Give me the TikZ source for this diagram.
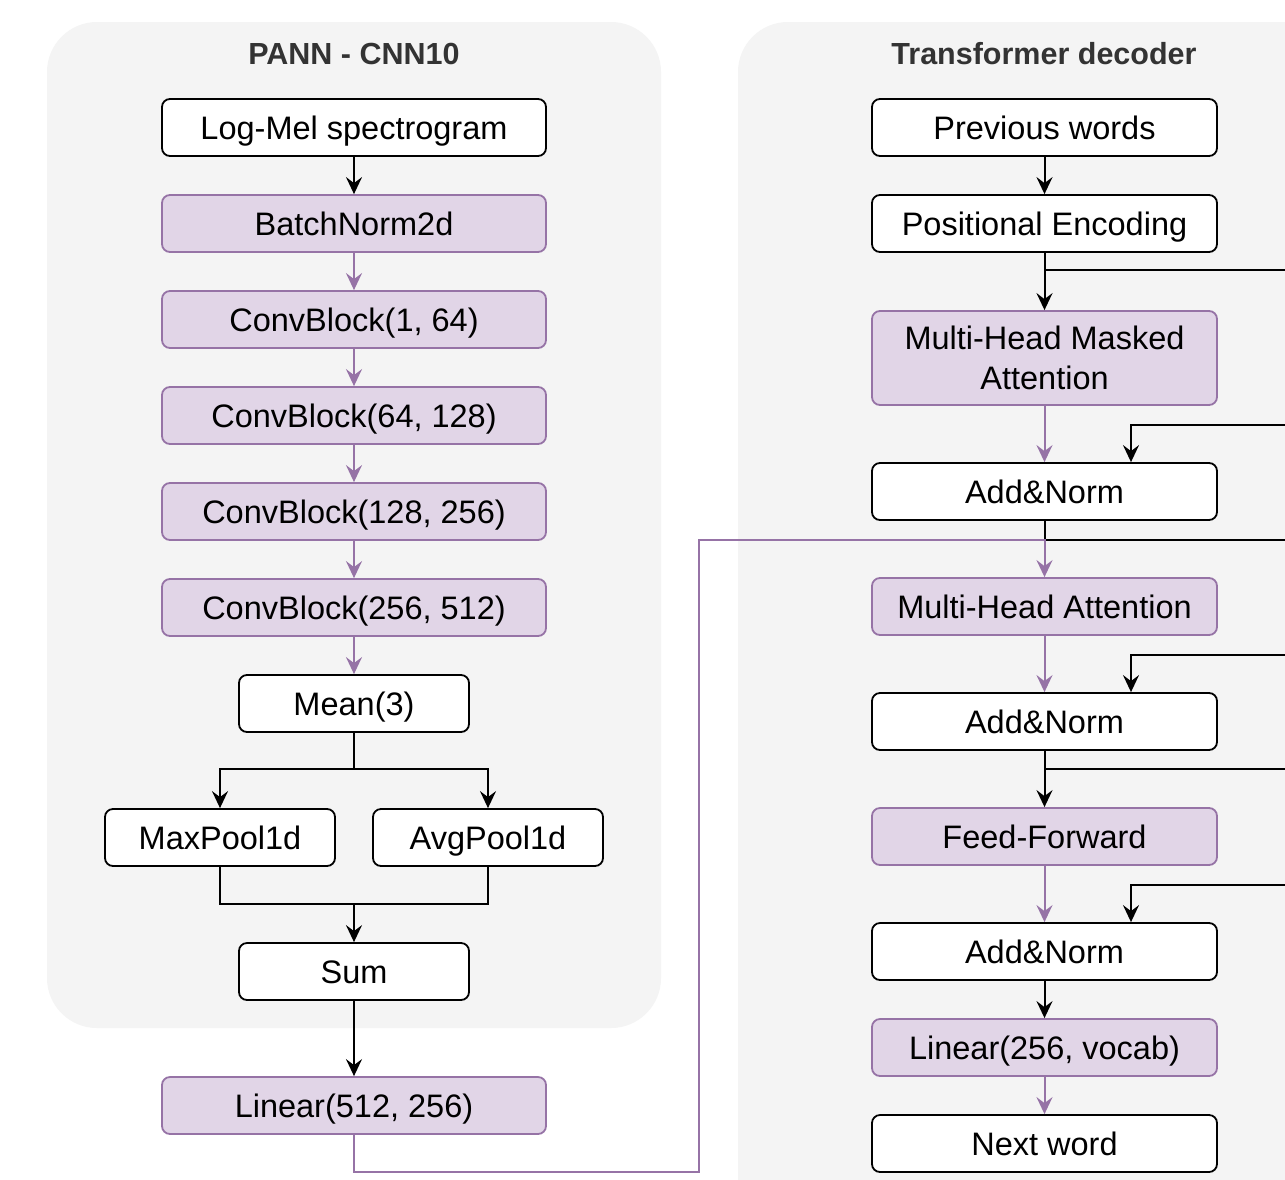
\documentclass[tikz,border=0pt]{standalone}
\usepackage{fontspec}
\setmainfont{Liberation Sans}
\usetikzlibrary{arrows.meta,calc}
\definecolor{pfill}{HTML}{E1D5E7}
\definecolor{pdraw}{HTML}{9673A6}
\definecolor{panel}{HTML}{F4F4F4}
\definecolor{ttl}{HTML}{333333}
\begin{document}
\begin{tikzpicture}[x=1pt,y=-1pt,
 box/.style={draw=black, line width=1.8pt, rounded corners=8pt, fill=white, minimum height=57pt, inner sep=0pt, text height=23pt, text depth=0pt, font=\fontsize{32.5}{40}\selectfont, align=center},
 pbox/.style={box, draw=pdraw, fill=pfill},
 lw/.style={minimum width=384pt},
 rw/.style={minimum width=345pt},
 sw/.style={minimum width=230pt},
 conn/.style={line width=2pt, draw=black},
 pconn/.style={conn, draw=pdraw},
 arr/.style={-{Stealth[length=17pt,width=16pt,inset=6pt]}},
 ttlstyle/.style={font=\bfseries\fontsize{30.5}{36}\selectfont, text=ttl}
]
\fill[white] (0,0) rectangle (1285,1179);
\useasboundingbox (0,0) rectangle (1285,1179);
\begin{scope}
\clip (0,0) rectangle (1285,1179);
\fill[panel, rounded corners=50pt] (47,22) rectangle (661,1028);
\fill[panel, rounded corners=50pt] (738,22) rectangle (1400,1300);
\end{scope}

\node[ttlstyle] (t1) at (354,54) {PANN - CNN10};
\node[ttlstyle] (t2) at (1044,54) {Transformer decoder};

% left column
\node[box,lw]  (lm)   at (354,127.5)  {Log-Mel spectrogram};
\node[pbox,lw] (bn)   at (354,223.5)  {BatchNorm2d};
\node[pbox,lw] (c1)   at (354,319.5)  {ConvBlock(1, 64)};
\node[pbox,lw] (c2)   at (354,415.5)  {ConvBlock(64, 128)};
\node[pbox,lw] (c3)   at (354,511.5)  {ConvBlock(128, 256)};
\node[pbox,lw] (c4)   at (354,607.5)  {ConvBlock(256, 512)};
\node[box,sw]  (mean) at (354,703.5)  {Mean(3)};
\node[box,sw]  (maxp) at (220,837.5)  {MaxPool1d};
\node[box,sw]  (avgp) at (488,837.5)  {AvgPool1d};
\node[box,sw]  (sum)  at (354,971.5)  {Sum};
\node[pbox,lw] (lin)  at (354,1105.5) {Linear(512, 256)};

% right column
\node[box,rw]  (pw)   at (1044.5,127.5)  {Previous words};
\node[box,rw]  (pe)   at (1044.5,223.5)  {Positional Encoding};
\node[pbox,rw,minimum height=94pt,text height={},text depth={}] (mhma) at (1044.5,358) {Multi-Head Masked\\Attention};
\node[box,rw]  (an1)  at (1044.5,491.5)  {Add\&Norm};
\node[pbox,rw] (mha)  at (1044.5,606.5)  {Multi-Head Attention};
\node[box,rw]  (an2)  at (1044.5,721.5)  {Add\&Norm};
\node[pbox,rw] (ff)   at (1044.5,836.5)  {Feed-Forward};
\node[box,rw]  (an3)  at (1044.5,951.5)  {Add\&Norm};
\node[pbox,rw] (lv)   at (1044.5,1047.5) {Linear(256, vocab)};
\node[box,rw]  (nw)   at (1044.5,1143.5) {Next word};

% left connectors
\draw[conn,arr] (lm) -- (bn);
\draw[pconn,arr] (bn) -- (c1);
\draw[pconn,arr] (c1) -- (c2);
\draw[pconn,arr] (c2) -- (c3);
\draw[pconn,arr] (c3) -- (c4);
\draw[pconn,arr] (c4) -- (mean);
\coordinate (ms) at (354,769);
\draw[conn] (mean) -- (ms);
\draw[conn,arr] (ms) -| (maxp);
\draw[conn,arr] (ms) -| (avgp);
\coordinate (mg) at (354,904);
\draw[conn] (maxp) |- (mg);
\draw[conn] (avgp) |- (mg);
\draw[conn,arr] (mg) -- (sum);
\draw[conn,arr] (sum) -- (lin);

% right connectors
\coordinate (r1) at (1300,270);
\coordinate (r2) at (1300,425);
\coordinate (r3) at (1300,540);
\coordinate (r4) at (1300,655);
\coordinate (r5) at (1300,769);
\coordinate (r6) at (1300,885);
\draw[conn,arr] (pw) -- (pe);
\draw[conn,arr] (pe) -- (mhma);
\draw[conn] (pe.south |- r1) -- (r1);
\draw[pconn,arr] (mhma) -- (an1);
\draw[conn,arr] (r2) -| ([xshift=86.5pt]an1.north);
\draw[conn] (an1.south) |- (r3);
\draw[pconn,arr] (mha) -- (an2);
\draw[conn,arr] (r4) -| ([xshift=86.5pt]an2.north);
\draw[conn,arr] (an2) -- (ff);
\draw[conn] (an2.south |- r5) -- (r5);
\draw[pconn,arr] (ff) -- (an3);
\draw[conn,arr] (r6) -| ([xshift=86.5pt]an3.north);
\draw[conn,arr] (an3) -- (lv);
\draw[pconn,arr] (lv) -- (nw);

% encoder to decoder
\coordinate (pb) at (699,1172);
\coordinate (pt) at (699,540);
\draw[pconn,arr] (lin.south) |- (pb) -- (pt) -| (mha.north);
\end{tikzpicture}
\end{document}
